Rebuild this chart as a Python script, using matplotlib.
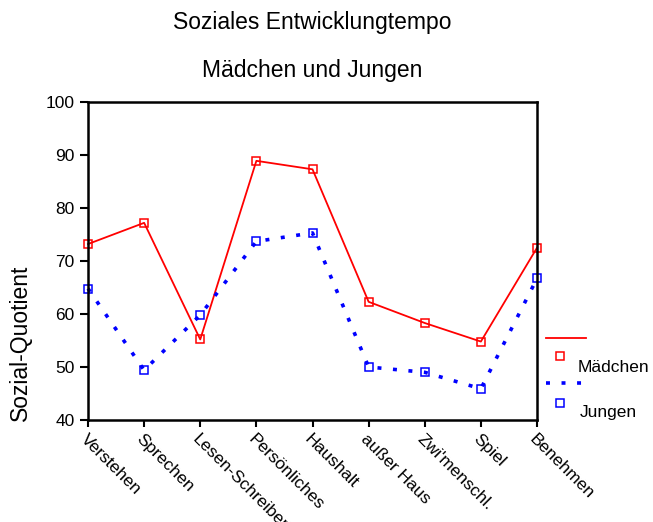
import matplotlib.pyplot as plt
from matplotlib.lines import Line2D

plt.rcParams['font.family'] = ['Liberation Sans', 'DejaVu Sans']

kategorien = ["Verstehen", "Sprechen", "Lesen-Schreiben", "Persönliches", "Haushalt",
              "außer Haus", "Zwi'menschl.", "Spiel", "Benehmen"]
maedchen = [73.2, 77.2, 55.2, 88.9, 87.3, 62.3, 58.3, 54.8, 72.5]
jungen = [64.8, 49.4, 59.8, 73.7, 75.3, 50.0, 49.0, 45.9, 66.7]
yticks = [40, 50, 60, 70, 80, 90, 100]

fig = plt.figure(figsize=(6.53, 5.22), dpi=100)
ax = fig.add_axes([88/653, 1-420/522, 449/653, 318/522])

x = list(range(len(kategorien)))
ax.plot(x, maedchen, color="red", lw=1.3, marker="s", ms=5.5, mfc="none", mew=1.1, clip_on=False)
ax.plot(x, jungen, color="blue", lw=2.6, dashes=(1.1, 3.2), dash_capstyle="butt",
        marker="s", ms=5.5, mfc="none", mew=1.1, clip_on=False)

ax.set_xlim(0, len(kategorien) - 1)
ax.set_ylim(40, 100)
ax.set_yticks(yticks)
ax.set_xticks(x)
ax.set_xticklabels(kategorien, rotation=-45, ha="left", va="top", rotation_mode="anchor", fontsize=12.5)
ax.tick_params(axis="y", labelsize=12.5, length=6, width=1.5, direction="out")
ax.tick_params(axis="x", length=5, width=1.5, direction="out", pad=3)
for s in ax.spines.values():
    s.set_linewidth(1.8)

fig.text(312/653, 1-22/522, "Soziales Entwicklungtempo", ha="center", va="center", fontsize=16.5)
fig.text(312/653, 1-70/522, "Mädchen und Jungen", ha="center", va="center", fontsize=16.5)
fig.text(20/653, 1-343/522, "Sozial-Quotient", ha="center", va="center", rotation=90, fontsize=16.5)

# legend, drawn by hand like the SPSS output
fig.add_artist(Line2D([546/653, 586/653], [1-338/522, 1-338/522], color="red", lw=1.3))
fig.add_artist(Line2D([560/653], [1-356/522], color="red", marker="s", ms=5.5, mfc="none", mew=1.1))
fig.text(578/653, 1-367/522, "Mädchen", ha="left", va="center", fontsize=12.5)
fig.add_artist(Line2D([546/653, 590/653], [1-383/522, 1-383/522], color="blue", lw=2.6,
                      dashes=(1.1, 3.2), dash_capstyle="butt"))
fig.add_artist(Line2D([560/653], [1-403/522], color="blue", marker="s", ms=5.5, mfc="none", mew=1.1))
fig.text(580/653, 1-412/522, "Jungen", ha="left", va="center", fontsize=12.5)

fig.savefig("out.png", dpi=100)
